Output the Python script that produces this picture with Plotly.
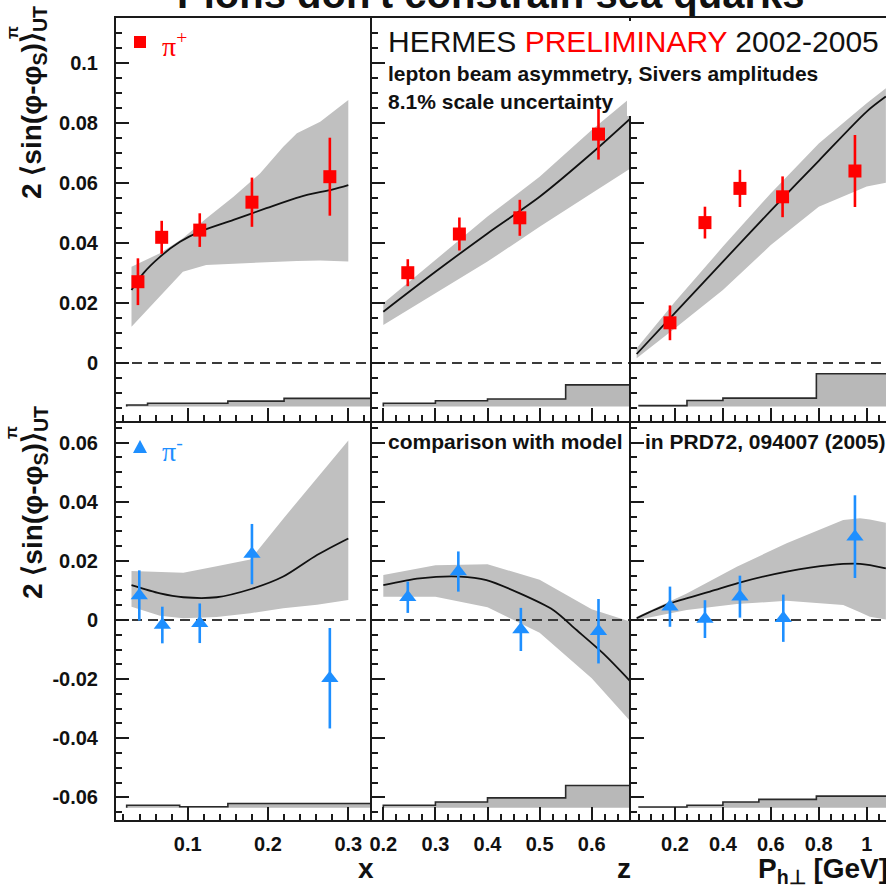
import plotly.graph_objects as go

# ---------------- data ----------------
# pi+  (upper row)
X_PIP = [0.038, 0.0676, 0.115, 0.180, 0.277]
A_X_PIP = [0.0271, 0.0419, 0.0443, 0.0536, 0.0621]
E_X_PIP = [0.0078, 0.0055, 0.0056, 0.0082, 0.0130]
Z_PIP = [0.247, 0.346, 0.462, 0.613]
A_Z_PIP = [0.0301, 0.0430, 0.0484, 0.0763]
E_Z_PIP = [0.0045, 0.0055, 0.0060, 0.0085]
P_PIP = [0.179, 0.325, 0.471, 0.649, 0.951]
A_P_PIP = [0.0134, 0.0468, 0.0582, 0.0554, 0.0640]
E_P_PIP = [0.0058, 0.0053, 0.0062, 0.0068, 0.0120]

# pi-  (lower row)
X_PIM = [0.0397, 0.0684, 0.115, 0.180, 0.277]
A_X_PIM = [0.0083, -0.0017, -0.0011, 0.0223, -0.0197]
E_X_PIM = [0.0085, 0.0062, 0.0067, 0.0102, 0.0170]
Z_PIM = [0.247, 0.344, 0.464, 0.613]
A_Z_PIM = [0.0077, 0.0164, -0.0032, -0.0038]
E_Z_PIM = [0.0053, 0.0068, 0.0073, 0.0109]
P_PIM = [0.179, 0.325, 0.471, 0.652, 0.951]
A_P_PIM = [0.0045, 0.0003, 0.0079, 0.0006, 0.0282]
E_P_PIM = [0.0068, 0.0064, 0.0071, 0.0080, 0.0140]

# model curves and bands, pi+
MX_PIP = [0.030, 0.0447, 0.0655, 0.0904, 0.115, 0.157, 0.198, 0.240, 0.281, 0.300]
MY_X_PIP = [0.0243, 0.0299, 0.0354, 0.0404, 0.0438, 0.0477, 0.0516, 0.0554, 0.0579, 0.0593]
BX_PIP = [0.030, 0.0655, 0.094, 0.123, 0.157, 0.190, 0.219, 0.236, 0.265, 0.300]
BHI_X_PIP = [0.0321, 0.0366, 0.0416, 0.0482, 0.0554, 0.0632, 0.0721, 0.0766, 0.0804, 0.0877]
BLO_X_PIP = [0.0121, 0.0221, 0.0304, 0.0327, 0.0330, 0.0334, 0.0338, 0.0340, 0.0342, 0.0338]

MZ_PIP = [0.2, 0.3, 0.4, 0.5, 0.6, 0.675]
MY_Z_PIP = [0.0171, 0.0304, 0.0432, 0.0554, 0.0699, 0.0816]
BHI_Z_PIP = [0.0199, 0.0343, 0.0488, 0.0621, 0.0777, 0.0885]
BLO_Z_PIP = [0.0127, 0.0232, 0.0338, 0.0454, 0.0566, 0.0649]

MP_PIP = [0.04, 0.2, 0.4, 0.6, 0.8, 1.0, 1.08]
MY_P_PIP = [0.0030, 0.0167, 0.0338, 0.0508, 0.0674, 0.0838, 0.0888]
BHI_P_PIP = [0.0049, 0.0204, 0.0388, 0.0566, 0.0732, 0.0866, 0.0916]
BLO_P_PIP = [0.0016, 0.0116, 0.0243, 0.0393, 0.0521, 0.0588, 0.0601]

# model curves and bands, pi-
MX_PIM = [0.030, 0.0655, 0.0945, 0.136, 0.178, 0.219, 0.261, 0.300]
MY_X_PIM = [0.0118, 0.0090, 0.0077, 0.0077, 0.0104, 0.0147, 0.0220, 0.0276]
BHI_X_PIM = [0.0166, 0.0163, 0.0160, 0.0182, 0.0205, 0.0343, 0.0478, 0.0607]
BLO_X_PIM = [0.0045, 0.0014, 0.0006, 0.0010, 0.0023, 0.0040, 0.0052, 0.0068]

MZ_PIM = [0.2, 0.270, 0.347, 0.398, 0.462, 0.526, 0.571, 0.622, 0.675]
MY_Z_PIM = [0.0118, 0.0141, 0.0147, 0.0135, 0.0090, 0.0034, -0.0034, -0.0113, -0.0209]
BZ_PIM = [0.2, 0.3, 0.4, 0.5, 0.6, 0.675]
BHI_Z_PIM = [0.0152, 0.0185, 0.0189, 0.0136, 0.0036, -0.0006]
BLO_Z_PIM = [0.0079, 0.0079, 0.0043, -0.0043, -0.0197, -0.0344]

MP_PIM = [0.04, 0.179, 0.346, 0.485, 0.666, 0.847, 0.972, 1.08]
MY_P_PIM = [0.0006, 0.0056, 0.0096, 0.0130, 0.0164, 0.0186, 0.0190, 0.0175]
BP_PIM = [0.04, 0.249, 0.458, 0.666, 0.902, 0.972, 1.013, 1.08]
BHI_P_PIM = [0.0011, 0.0090, 0.0180, 0.0260, 0.0338, 0.0344, 0.0340, 0.0329]
BLO_P_PIM = [0.0000, 0.0034, 0.0054, 0.0065, 0.0051, 0.0026, 0.0011, 0.0002]

# systematic-uncertainty histograms
SYS_X_EDGES = [0.024, 0.05, 0.09, 0.15, 0.22, 0.40]
SYS_Z_EDGES = [0.2, 0.3, 0.4, 0.55, 0.7]
SYS_P_EDGES = [0.05, 0.25, 0.40, 0.55, 0.79, 1.2]
SYS_X_PIP = [0.0005, 0.0011, 0.0011, 0.0018, 0.0027]
SYS_Z_PIP = [0.0011, 0.0019, 0.0025, 0.0072]
SYS_P_PIP = [0.0003, 0.0020, 0.0028, 0.0028, 0.0109]
SYS_X_PIM = [0.0008, 0.0008, 0.0003, 0.0014, 0.0014]
SYS_Z_PIM = [0.0008, 0.0019, 0.0033, 0.0075]
SYS_P_PIM = [0.0002, 0.0008, 0.0019, 0.0028, 0.0039]
SYS_BASE = [-0.0145, -0.0635]

# axes
X_RANGES = [[0.0107, 0.3295], [0.1783, 0.6754], [0.0164, 1.0806]]
Y_RANGES = [[-0.01933, 0.115], [-0.06768, 0.06734]]
X_TICKS = [[0.1, 0.2, 0.3], [0.2, 0.3, 0.4, 0.5, 0.6], [0.2, 0.4, 0.6, 0.8, 1.0]]
X_TICKTEXT = [["0.1", "0.2", "0.3"], ["0.2", "0.3", "0.4", "0.5", "0.6"],
              ["0.2", "0.4", "0.6", "0.8", "1"]]
X_MINOR = [0.02, 0.025, 0.05]
Y_TICKS = [[0, 0.02, 0.04, 0.06, 0.08, 0.1],
           [-0.06, -0.04, -0.02, 0, 0.02, 0.04, 0.06]]
Y_TICKTEXT = [["0", "0.02", "0.04", "0.06", "0.08", "0.1"],
              ["-0.06", "-0.04", "-0.02", "0", "0.02", "0.04", "0.06"]]
X_TITLES = ["x", "z", "P<sub>h\u22a5</sub> [GeV]"]

# ---------------- styling / layout ----------------
W, H = 886, 888
COL_PX = [(116, 372), (372, 631), (631, 886)]
ROW_PX = [(18, 421), (421, 820)]
SANS = "Liberation Sans, Arial, Helvetica, sans-serif"
SERIF = "Liberation Serif, Times New Roman, serif"
RED = "#ff0000"
BLUE = "#1e8fff"
BAND = "#c0c0c0"
SYSFILL = "#b8b8b8"
FRAME = "#1a1a1a"


def px(x, y):
    return x / W, 1 - y / H


def sys_polygon(edges, heights, base):
    xs, ys = [edges[0]], [base]
    for i, h in enumerate(heights):
        xs += [edges[i], edges[i + 1]]
        ys += [base + h, base + h]
    xs.append(edges[-1])
    ys.append(base)
    return xs, ys


PANELS = [
    (0, 0, X_PIP, A_X_PIP, E_X_PIP, RED, "square", MX_PIP, MY_X_PIP, BX_PIP, BHI_X_PIP, BLO_X_PIP, SYS_X_EDGES, SYS_X_PIP),
    (0, 1, Z_PIP, A_Z_PIP, E_Z_PIP, RED, "square", MZ_PIP, MY_Z_PIP, MZ_PIP, BHI_Z_PIP, BLO_Z_PIP, SYS_Z_EDGES, SYS_Z_PIP),
    (0, 2, P_PIP, A_P_PIP, E_P_PIP, RED, "square", MP_PIP, MY_P_PIP, MP_PIP, BHI_P_PIP, BLO_P_PIP, SYS_P_EDGES, SYS_P_PIP),
    (1, 0, X_PIM, A_X_PIM, E_X_PIM, BLUE, "triangle-up", MX_PIM, MY_X_PIM, MX_PIM, BHI_X_PIM, BLO_X_PIM, SYS_X_EDGES, SYS_X_PIM),
    (1, 1, Z_PIM, A_Z_PIM, E_Z_PIM, BLUE, "triangle-up", MZ_PIM, MY_Z_PIM, BZ_PIM, BHI_Z_PIM, BLO_Z_PIM, SYS_Z_EDGES, SYS_Z_PIM),
    (1, 2, P_PIM, A_P_PIM, E_P_PIM, BLUE, "triangle-up", MP_PIM, MY_P_PIM, BP_PIM, BHI_P_PIM, BLO_P_PIM, SYS_P_EDGES, SYS_P_PIM),
]

fig = go.Figure()
layout_axes = {}

for (r, c, dx, dy, de, col, sym, mx, my, bx, bhi, blo, sedges, sh) in PANELS:
    k = r * 3 + c + 1
    s = "" if k == 1 else str(k)
    xr, yr = "x" + s, "y" + s

    # model uncertainty band
    fig.add_trace(go.Scatter(x=list(bx) + list(bx)[::-1], y=list(bhi) + list(blo)[::-1],
                             fill="toself", fillcolor=BAND, line=dict(width=0),
                             mode="lines", hoverinfo="skip", xaxis=xr, yaxis=yr))
    # systematic histogram
    sx, sy = sys_polygon(sedges, sh, SYS_BASE[r])
    fig.add_trace(go.Scatter(x=sx, y=sy, fill="toself", fillcolor=SYSFILL,
                             line=dict(color="#2a2a2a", width=1.6), mode="lines",
                             hoverinfo="skip", xaxis=xr, yaxis=yr))
    # zero line
    fig.add_trace(go.Scatter(x=X_RANGES[c], y=[0, 0], mode="lines",
                             line=dict(color="#3a3a3a", width=2, dash="10px,6px"),
                             hoverinfo="skip", xaxis=xr, yaxis=yr))
    # model curve
    fig.add_trace(go.Scatter(x=mx, y=my, mode="lines",
                             line=dict(color="#111111", width=1.8, shape="spline", smoothing=0.8),
                             xaxis=xr, yaxis=yr))
    # data
    fig.add_trace(go.Scatter(x=dx, y=dy, mode="markers",
                             marker=dict(symbol=sym, size=13 if sym == "square" else 15, color=col,
                                         line=dict(width=0)),
                             error_y=dict(type="data", array=de, color=col, thickness=2.6, width=0),
                             xaxis=xr, yaxis=yr))

    x0p, x1p = COL_PX[c]
    y0p, y1p = ROW_PX[r]
    layout_axes["xaxis" + s] = dict(
        domain=[x0p / W, x1p / W], range=X_RANGES[c], anchor=yr,
        showline=True, linewidth=2, linecolor=FRAME, mirror=(r == 0),
        showgrid=False, zeroline=False,
        ticks="inside", ticklen=13, tickwidth=2, tickcolor=FRAME,
        tickmode="array", tickvals=X_TICKS[c], ticktext=X_TICKTEXT[c],
        minor=dict(ticks="inside", ticklen=6, tickwidth=1.6, tickcolor=FRAME,
                   tick0=0, dtick=X_MINOR[c], showgrid=False),
        showticklabels=(r == 1), ticklabelstandoff=5,
        tickfont=dict(family=SANS, size=20, color="#111111", weight="bold"),
        fixedrange=True,
    )
    layout_axes["yaxis" + s] = dict(
        domain=[1 - y1p / H, 1 - y0p / H], range=Y_RANGES[r], anchor=xr,
        showline=True, linewidth=2, linecolor=FRAME, mirror=False,
        showgrid=False, zeroline=False,
        ticks="inside", ticklen=13, tickwidth=2, tickcolor=FRAME,
        tickmode="array", tickvals=Y_TICKS[r], ticktext=Y_TICKTEXT[r],
        minor=dict(ticks="inside", ticklen=6, tickwidth=1.6, tickcolor=FRAME,
                   tick0=0, dtick=0.005, showgrid=False),
        showticklabels=(c == 0), ticklabelstandoff=12,
        tickfont=dict(family=SANS, size=20, color="#111111", weight="bold"),
        fixedrange=True,
    )

annotations = []


def add_text(text, x, y, size, xanchor="left", yanchor="middle", color="#111111",
             family=SANS, weight="normal", angle=0):
    ax, ay = px(x, y)
    annotations.append(dict(text=text, x=ax, y=ay, xref="paper", yref="paper",
                            xanchor=xanchor, yanchor=yanchor, showarrow=False,
                            textangle=angle,
                            font=dict(family=family, size=size, color=color, weight=weight)))


# cut-off title at the very top
add_text("Pions don't constrain sea quarks", 490, -6, 40, xanchor="center", weight="bold")
# header texts
add_text("HERMES <span style='color:#ff0000'>PRELIMINARY</span> 2002-2005", 386, 42, 30)
add_text("lepton beam asymmetry, Sivers amplitudes", 386, 73, 21, weight="bold")
add_text("8.1% scale uncertainty", 386, 101, 21, weight="bold")
add_text("comparison with model", 386, 441, 21, weight="bold")
add_text("in PRD72, 094007 (2005)", 643, 441, 21, weight="bold")
# legend-like labels
add_text("\u03c0<sup>+</sup>", 160, 44, 28, color=RED, family=SERIF)
add_text("\u03c0<sup>-</sup>", 160, 449, 28, color=BLUE, family=SERIF)
# y titles (pi superscript stacked above the UT subscript)
ytitle = "2 \u27e8sin(\u03c6-\u03c6<sub>S</sub>)\u27e9<sub>UT</sub>"
add_text(ytitle, 34, 103, 28, xanchor="center", weight="bold", angle=-90)
add_text(ytitle, 34, 503, 28, xanchor="center", weight="bold", angle=-90)
add_text("\u03c0", 12, 33, 17, xanchor="center", weight="bold", angle=-90)
add_text("\u03c0", 12, 433, 17, xanchor="center", weight="bold", angle=-90)
# x titles
add_text(X_TITLES[0], 366, 868, 28, xanchor="center", weight="bold")
add_text(X_TITLES[1], 624, 868, 28, xanchor="center", weight="bold")
add_text(X_TITLES[2], 890, 870, 28, xanchor="right", weight="bold")

shapes = []
# white patch behind the header text, hiding the column divider there
wx0, wy0 = px(627, 116)
wx1, wy1 = px(648, 21)
shapes.append(dict(type="rect", xref="paper", yref="paper", x0=wx0, y0=wy0, x1=wx1, y1=wy1,
                   fillcolor="white", line=dict(width=0), layer="above"))
# legend square marker
sx0, sy0 = px(134, 48)
sx1, sy1 = px(146, 36)
shapes.append(dict(type="rect", xref="paper", yref="paper", x0=sx0, y0=sy0, x1=sx1, y1=sy1,
                   fillcolor=RED, line=dict(width=0)))
# legend triangle marker
t1, t2, t3 = px(133, 453), px(147, 453), px(140, 440)
shapes.append(dict(type="path", xref="paper", yref="paper",
                   path=f"M {t1[0]} {t1[1]} L {t2[0]} {t2[1]} L {t3[0]} {t3[1]} Z",
                   fillcolor=BLUE, line=dict(width=0)))

fig.update_layout(
    width=W, height=H, template="none",
    margin=dict(l=0, r=0, t=0, b=0, pad=0),
    paper_bgcolor="white", plot_bgcolor="white",
    showlegend=False, annotations=annotations, shapes=shapes,
    **layout_axes,
)

fig.write_html("out.html", config={"displayModeBar": False},
               post_script="document.body.style.margin='0';document.body.style.overflow='hidden';")
